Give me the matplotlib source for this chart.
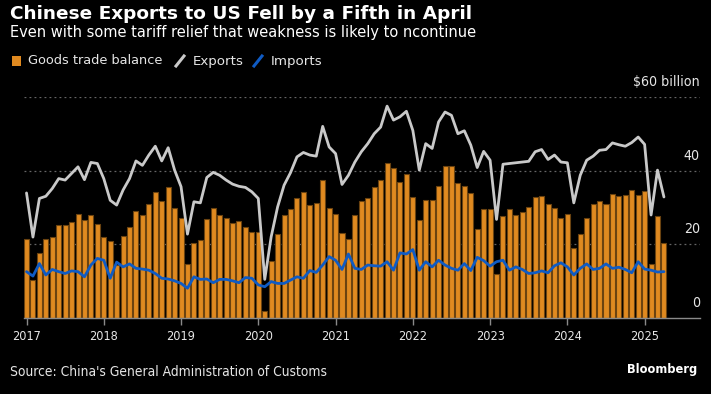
import matplotlib
matplotlib.use("Agg")
import matplotlib.pyplot as plt
from matplotlib.lines import Line2D
from matplotlib.patches import Rectangle
import matplotlib.transforms as mtransforms

# ---------------- data (US$ billion, monthly Jan 2017 - Apr 2025) ----------------
years = ["2017", "2018", "2019", "2020", "2021", "2022", "2023", "2024", "2025"]

balance_2017 = [21.4, 10.4, 17.7, 21.4, 22.0, 25.4, 25.2, 26.2, 28.2, 26.6, 27.9, 25.5]
balance_2018 = [22.0, 21.0, 14.4, 22.3, 24.7, 29.0, 28.1, 31.1, 34.2, 31.8, 35.6, 29.9]
balance_2019 = [27.3, 14.8, 20.5, 21.1, 26.9, 30.0, 27.9, 27.1, 25.9, 26.4, 24.7, 23.3]
balance_2020 = [23.5, 1.9, 15.4, 22.9, 27.9, 29.5, 32.5, 34.2, 30.8, 31.4, 37.5, 30.0]
balance_2021 = [28.2, 23.0, 21.4, 28.1, 31.8, 32.6, 35.5, 37.6, 42.1, 40.7, 36.9, 39.2]
balance_2022 = [33.0, 26.7, 32.0, 32.2, 36.0, 41.4, 41.4, 36.7, 36.0, 34.1, 24.3, 29.5]
balance_2023 = [29.5, 11.9, 27.6, 29.7, 28.1, 28.7, 30.3, 33.0, 33.1, 30.9, 29.8, 27.3]
balance_2024 = [28.4, 18.9, 22.9, 27.3, 30.9, 31.8, 30.9, 33.8, 33.3, 33.5, 34.9, 33.5]
balance_2025 = [34.4, 14.8, 27.6, 20.5]

exports_2017 = [34.0, 22.0, 32.5, 33.1, 35.2, 37.9, 37.5, 39.3, 41.1, 37.6, 42.3, 42.0]
exports_2018 = [37.9, 32.0, 30.7, 34.8, 37.9, 42.7, 41.5, 44.3, 46.7, 42.7, 46.3, 40.2]
exports_2019 = [35.7, 22.8, 31.6, 31.3, 38.2, 39.6, 38.8, 37.5, 36.4, 35.8, 35.5, 34.3]
exports_2020 = [32.5, 10.5, 22.1, 30.2, 36.1, 39.5, 43.8, 45.0, 44.3, 44.0, 52.1, 46.5]
exports_2021 = [44.7, 36.3, 38.8, 42.4, 45.2, 47.4, 50.1, 51.9, 57.6, 53.8, 54.7, 56.2]
exports_2022 = [51.0, 40.2, 47.4, 46.1, 53.3, 56.0, 55.1, 50.1, 50.9, 47.0, 40.9, 45.3]
exports_2023 = [42.9, 26.8, 41.8, 42.0, 42.2, 42.4, 42.6, 45.2, 45.8, 43.1, 44.3, 42.4]
exports_2024 = [42.2, 31.3, 38.8, 42.9, 44.0, 45.6, 45.8, 47.6, 47.1, 46.7, 47.7, 49.2]
exports_2025 = [47.2, 28.0, 40.2, 32.9]

imports_2017 = [12.6, 11.4, 14.8, 11.7, 13.2, 12.6, 12.1, 12.8, 12.6, 11.2, 14.4, 16.2]
imports_2018 = [15.7, 10.8, 15.2, 13.9, 14.7, 13.5, 13.3, 13.0, 12.1, 10.8, 10.6, 10.1]
imports_2019 = [9.4, 8.1, 11.2, 10.5, 10.6, 9.6, 10.5, 10.5, 10.1, 9.6, 11.0, 10.8]
imports_2020 = [9.0, 8.5, 9.9, 9.4, 9.4, 10.3, 11.2, 10.8, 12.9, 12.4, 14.4, 16.7]
imports_2021 = [15.7, 13.2, 17.4, 13.5, 13.2, 14.4, 14.2, 14.1, 15.3, 13.0, 17.7, 17.4]
imports_2022 = [18.6, 13.0, 15.3, 13.9, 15.7, 14.4, 13.5, 13.0, 14.8, 12.9, 16.5, 15.6]
imports_2023 = [14.1, 15.3, 15.7, 13.0, 13.9, 13.2, 12.1, 12.3, 12.8, 12.3, 14.2, 15.0]
imports_2024 = [13.9, 11.7, 13.5, 14.7, 13.2, 13.5, 14.7, 13.5, 13.8, 13.2, 12.3, 15.3]
imports_2025 = [13.3, 13.0, 12.5, 12.6]

y_ticks = [0, 20, 40, 60]
y_tick_labels = ["0", "20", "40", "$60 billion"]

balance = (balance_2017 + balance_2018 + balance_2019 + balance_2020 + balance_2021
           + balance_2022 + balance_2023 + balance_2024 + balance_2025)
exports = (exports_2017 + exports_2018 + exports_2019 + exports_2020 + exports_2021
           + exports_2022 + exports_2023 + exports_2024 + exports_2025)
imports = (imports_2017 + imports_2018 + imports_2019 + imports_2020 + imports_2021
           + imports_2022 + imports_2023 + imports_2024 + imports_2025)
months = list(range(len(balance)))

# ---------------- style ----------------
main = "DejaVu Sans"
COND = dict(fontfamily="DejaVu Sans", fontstretch="condensed")

BG = "#000000"
ORANGE = "#E08A20"
EDGE = "#6b4310"
WHITE_LINE = "#C9C9C9"
BLUE = "#0F5BC4"
TXT = "#E6E6E6"
GRID = "#666666"

W, H = 711, 394
fig = plt.figure(figsize=(W / 100, H / 100), dpi=100, facecolor=BG)

ax_l, ax_r, ax_t, ax_b = 24, 700, 97.3, 318
ax = fig.add_axes([ax_l / W, 1 - ax_b / H, (ax_r - ax_l) / W, (ax_b - ax_t) / H])
ax.set_facecolor(BG)

ax.bar(months, balance, width=0.78, color=ORANGE, edgecolor=EDGE, linewidth=0.8, zorder=2)
ax.plot(months, exports, color=WHITE_LINE, linewidth=2.0, solid_joinstyle="round",
        solid_capstyle="round", zorder=3)
ax.plot(months, imports, color=BLUE, linewidth=2.0, solid_joinstyle="round",
        solid_capstyle="round", zorder=4)

ax.set_xlim(-0.39, 104.6)
ax.set_ylim(0, 60)

for v in y_ticks[1:]:
    ax.axhline(v, color=GRID, linewidth=0.9, linestyle=(0, (1.5, 2.5)), zorder=1)

for s in ["top", "right", "left"]:
    ax.spines[s].set_visible(False)
ax.spines["bottom"].set_color("#8a8a8a")
ax.spines["bottom"].set_linewidth(1.0)
ax.spines["bottom"].set_zorder(5)

ax.set_xticks([12 * i for i in range(len(years))])
ax.set_xticklabels(years, fontsize=9.1, color=TXT, **COND)
ax.tick_params(axis="x", length=5, width=1, color="#8a8a8a", pad=4)
ax.set_yticks([])

# right-side y labels above gridlines
off = mtransforms.ScaledTranslation(0, 15 / 100, fig.dpi_scale_trans)
for v, lab in zip(y_ticks, y_tick_labels):
    ax.text(1.0, v, lab, transform=ax.get_yaxis_transform() + off, ha="right", va="center",
            fontsize=10.2, color=TXT, **COND)

# texts
fig.text(10 / W, 1 - 14 / H, "Chinese Exports to US Fell by a Fifth in April",
         fontsize=13.3, fontweight="bold", color="white", fontfamily=main, va="center", ha="left")
fig.text(10 / W, 1 - 33 / H, "Even with some tariff relief that weakness is likely to ncontinue",
         fontsize=10.5, color="white", fontfamily=main, va="center", ha="left")

# legend
ly = 61
fig.patches.append(Rectangle((12 / W, 1 - 66 / H), 9 / W, 10 / H, transform=fig.transFigure,
                             facecolor=ORANGE, edgecolor="none"))
fig.text(28 / W, 1 - ly / H, "Goods trade balance", fontsize=9.3, color=TXT,
         fontfamily=main, va="center", ha="left")
fig.lines.append(Line2D([176 / W, 184 / W], [1 - 66 / H, 1 - 56 / H], transform=fig.transFigure,
                        color=WHITE_LINE, linewidth=2.2))
fig.text(193 / W, 1 - ly / H, "Exports", fontsize=9.6, color=TXT,
         fontfamily=main, va="center", ha="left")
fig.lines.append(Line2D([254 / W, 262 / W], [1 - 66 / H, 1 - 56 / H], transform=fig.transFigure,
                        color=BLUE, linewidth=2.2))
fig.text(271 / W, 1 - ly / H, "Imports", fontsize=9.6, color=TXT,
         fontfamily=main, va="center", ha="left")

fig.text(10 / W, 1 - 372 / H, "Source: China's General Administration of Customs",
         fontsize=9.9, color=TXT, va="center", ha="left", **COND)
fig.text(697 / W, 1 - 370 / H, "Bloomberg", fontsize=9.2, fontweight="bold", color="white",
         va="center", ha="right", **COND)

fig.savefig("out.png", dpi=100, facecolor=BG)
